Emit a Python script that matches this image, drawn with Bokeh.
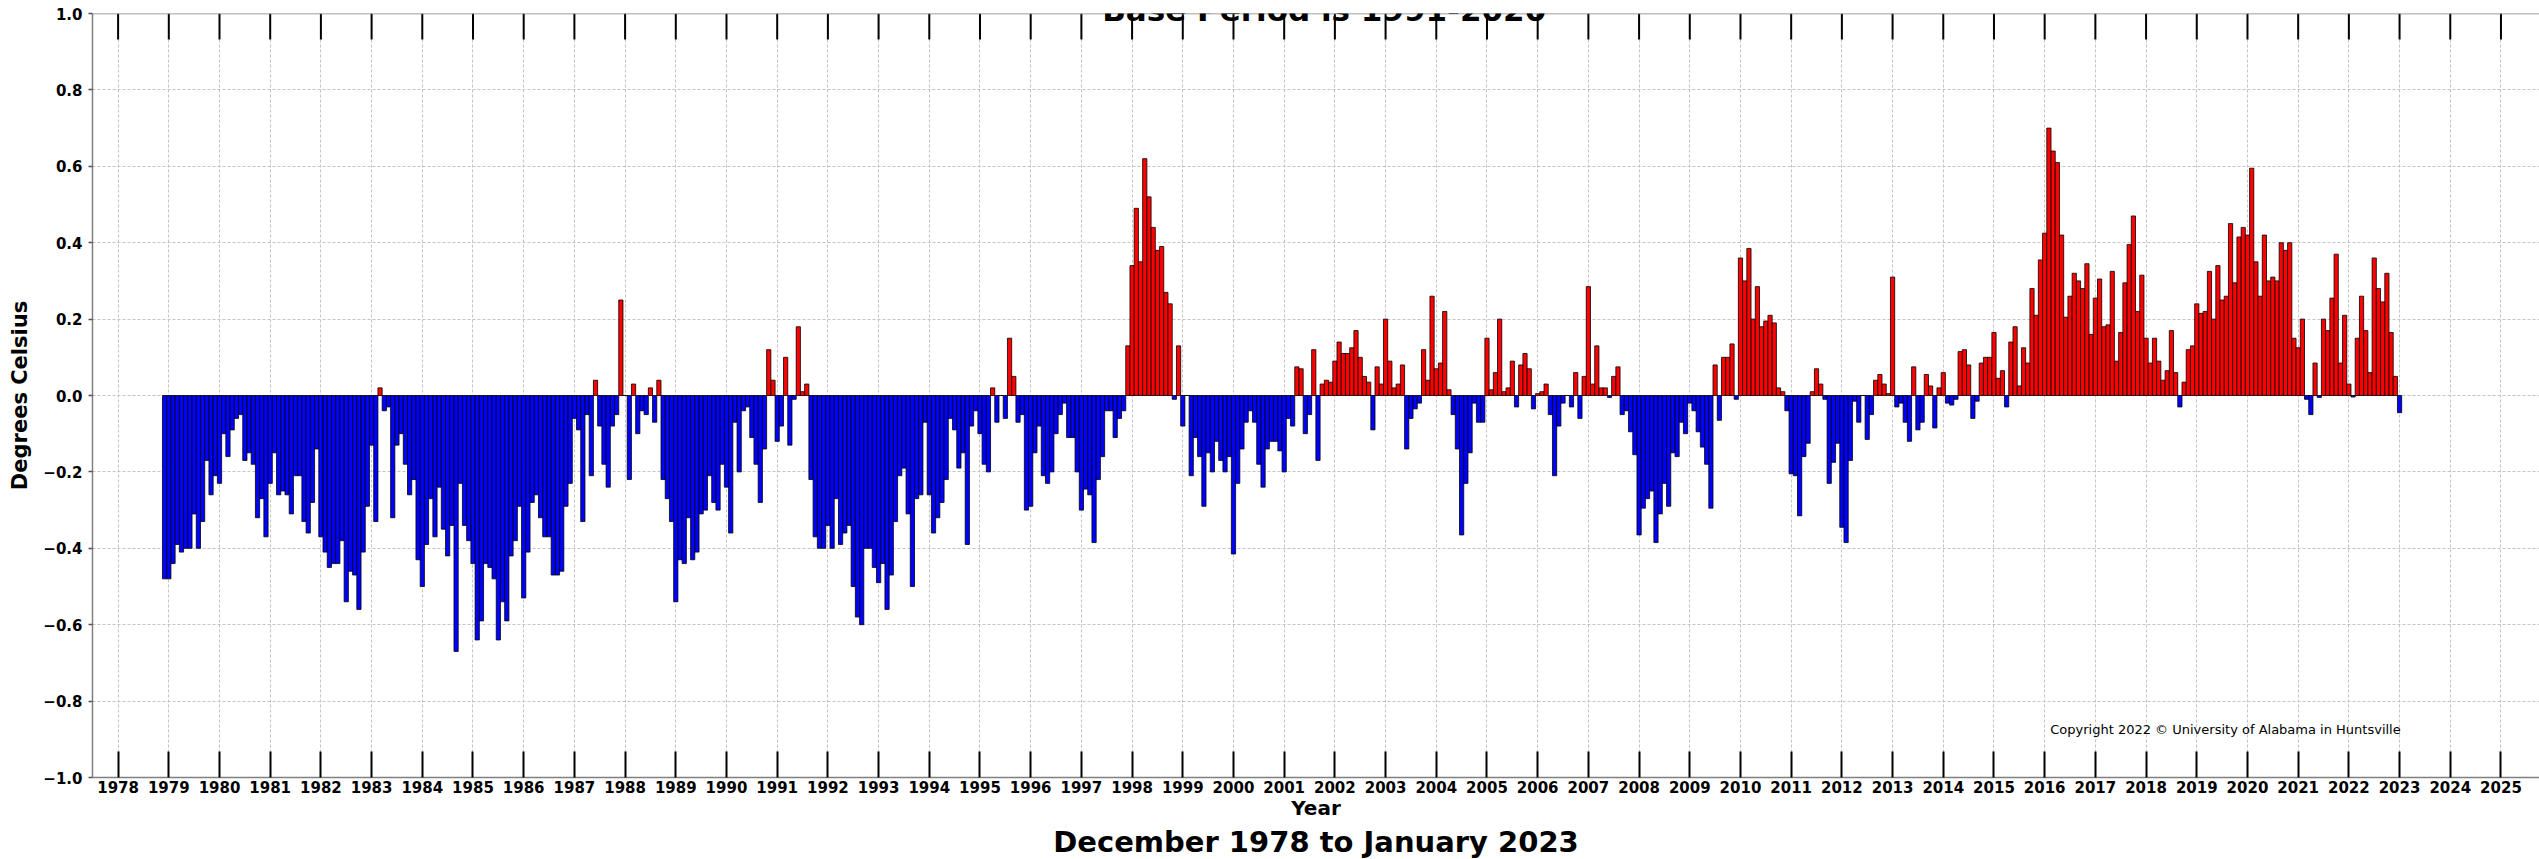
from bokeh.plotting import figure
from bokeh.models import ColumnDataSource, FixedTicker, Label, Range1d, Span, Title
from bokeh.embed import file_html
from bokeh.resources import INLINE

# Monthly anomalies (deg C), UAH global lower troposphere, base 1991-2020
anom_1978 = [-0.48]  # December only
anom_1979 = [-0.48, -0.44, -0.39, -0.41, -0.40, -0.40, -0.31, -0.40, -0.33, -0.17, -0.26, -0.21]
anom_1980 = [-0.23, -0.10, -0.16, -0.09, -0.06, -0.05, -0.17, -0.15, -0.18, -0.32, -0.27, -0.37]
anom_1981 = [-0.23, -0.15, -0.26, -0.25, -0.26, -0.31, -0.21, -0.21, -0.33, -0.36, -0.28, -0.14]
anom_1982 = [-0.37, -0.41, -0.45, -0.44, -0.44, -0.38, -0.54, -0.46, -0.47, -0.56, -0.41, -0.29]
anom_1983 = [-0.13, -0.33, 0.02, -0.04, -0.03, -0.32, -0.13, -0.10, -0.18, -0.26, -0.22, -0.43]
anom_1984 = [-0.50, -0.39, -0.27, -0.37, -0.24, -0.35, -0.42, -0.34, -0.67, -0.23, -0.34, -0.38]
anom_1985 = [-0.44, -0.64, -0.59, -0.44, -0.45, -0.48, -0.64, -0.54, -0.59, -0.42, -0.38, -0.29]
anom_1986 = [-0.53, -0.41, -0.28, -0.26, -0.32, -0.37, -0.37, -0.47, -0.47, -0.46, -0.29, -0.23]
anom_1987 = [-0.06, -0.09, -0.33, -0.05, -0.21, 0.04, -0.08, -0.18, -0.24, -0.08, -0.05, 0.25]
anom_1988 = [0.00, -0.22, 0.03, -0.10, -0.04, -0.05, 0.02, -0.07, 0.04, -0.22, -0.27, -0.33]
anom_1989 = [-0.54, -0.43, -0.44, -0.32, -0.43, -0.41, -0.31, -0.30, -0.21, -0.28, -0.30, -0.18]
anom_1990 = [-0.24, -0.36, -0.07, -0.20, -0.04, -0.03, -0.11, -0.18, -0.28, -0.14, 0.12, 0.04]
anom_1991 = [-0.12, -0.08, 0.10, -0.13, -0.01, 0.18, 0.01, 0.03, -0.22, -0.37, -0.40, -0.40]
anom_1992 = [-0.34, -0.40, -0.27, -0.39, -0.36, -0.34, -0.50, -0.58, -0.60, -0.40, -0.40, -0.45]
anom_1993 = [-0.49, -0.44, -0.56, -0.47, -0.33, -0.21, -0.19, -0.31, -0.50, -0.27, -0.26, -0.07]
anom_1994 = [-0.26, -0.36, -0.32, -0.28, -0.22, -0.06, -0.09, -0.19, -0.15, -0.39, -0.08, -0.04]
anom_1995 = [-0.10, -0.18, -0.20, 0.02, -0.07, 0.00, -0.06, 0.15, 0.05, -0.07, -0.05, -0.30]
anom_1996 = [-0.29, -0.15, -0.08, -0.21, -0.23, -0.20, -0.10, -0.05, -0.02, -0.11, -0.11, -0.20]
anom_1997 = [-0.30, -0.245, -0.26, -0.385, -0.22, -0.16, -0.04, -0.04, -0.11, -0.06, -0.04, 0.13]
anom_1998 = [0.34, 0.49, 0.35, 0.62, 0.52, 0.44, 0.38, 0.39, 0.27, 0.24, -0.01, 0.13]
anom_1999 = [-0.08, 0.00, -0.21, -0.11, -0.16, -0.29, -0.15, -0.20, -0.12, -0.17, -0.20, -0.16]
anom_2000 = [-0.415, -0.23, -0.14, -0.07, -0.04, -0.07, -0.18, -0.24, -0.14, -0.12, -0.12, -0.145]
anom_2001 = [-0.20, -0.06, -0.08, 0.075, 0.07, -0.10, -0.05, 0.12, -0.17, 0.03, 0.04, 0.035]
anom_2002 = [0.09, 0.14, 0.11, 0.11, 0.125, 0.17, 0.10, 0.05, 0.035, -0.09, 0.075, 0.03]
anom_2003 = [0.20, 0.09, 0.02, 0.03, 0.08, -0.14, -0.06, -0.035, -0.02, 0.12, 0.04, 0.26]
anom_2004 = [0.07, 0.085, 0.22, 0.015, -0.05, -0.14, -0.365, -0.23, -0.15, -0.02, -0.07, -0.07]
anom_2005 = [0.15, 0.015, 0.06, 0.20, 0.01, 0.02, 0.09, -0.03, 0.08, 0.11, 0.07, -0.035]
anom_2006 = [0.005, 0.01, 0.03, -0.05, -0.21, -0.08, -0.02, 0.00, -0.03, 0.06, -0.06, 0.05]
anom_2007 = [0.285, 0.03, 0.13, 0.02, 0.02, -0.005, 0.05, 0.075, -0.05, -0.04, -0.095, -0.155]
anom_2008 = [-0.365, -0.295, -0.27, -0.25, -0.385, -0.31, -0.23, -0.29, -0.15, -0.16, -0.07, -0.10]
anom_2009 = [-0.02, -0.04, -0.095, -0.135, -0.18, -0.295, 0.08, -0.065, 0.10, 0.10, 0.135, -0.01]
anom_2010 = [0.36, 0.30, 0.385, 0.20, 0.285, 0.18, 0.195, 0.21, 0.19, 0.02, 0.01, -0.04]
anom_2011 = [-0.205, -0.21, -0.315, -0.16, -0.125, 0.01, 0.07, 0.03, -0.01, -0.23, -0.175, -0.125]
anom_2012 = [-0.345, -0.385, -0.17, -0.015, -0.07, 0.00, -0.115, -0.05, 0.04, 0.055, 0.03, 0.005]
anom_2013 = [0.31, -0.03, -0.02, -0.07, -0.12, 0.075, -0.09, -0.07, 0.055, 0.025, -0.085, 0.02]
anom_2014 = [0.06, -0.02, -0.025, -0.01, 0.115, 0.12, 0.08, -0.06, -0.015, 0.085, 0.10, 0.10]
anom_2015 = [0.165, 0.045, 0.065, -0.03, 0.14, 0.18, 0.025, 0.125, 0.085, 0.28, 0.21, 0.355]
anom_2016 = [0.425, 0.70, 0.64, 0.61, 0.42, 0.205, 0.26, 0.32, 0.30, 0.28, 0.345, 0.16]
anom_2017 = [0.255, 0.305, 0.18, 0.185, 0.325, 0.09, 0.165, 0.295, 0.395, 0.47, 0.22, 0.315]
anom_2018 = [0.15, 0.085, 0.15, 0.09, 0.04, 0.065, 0.17, 0.06, -0.03, 0.035, 0.12, 0.13]
anom_2019 = [0.24, 0.215, 0.22, 0.325, 0.20, 0.34, 0.25, 0.26, 0.45, 0.295, 0.415, 0.44]
anom_2020 = [0.42, 0.595, 0.35, 0.26, 0.42, 0.30, 0.31, 0.30, 0.40, 0.38, 0.40, 0.15]
anom_2021 = [0.125, 0.20, -0.01, -0.05, 0.085, -0.005, 0.20, 0.17, 0.255, 0.37, 0.085, 0.21]
anom_2022 = [0.03, -0.004, 0.15, 0.26, 0.17, 0.06, 0.36, 0.28, 0.245, 0.32, 0.165, 0.05]
anom_2023 = [-0.045]  # January only

x_tick_years = list(range(1978, 2026))
y_tick_values = [-1.0, -0.8, -0.6, -0.4, -0.2, 0.0, 0.2, 0.4, 0.6, 0.8, 1.0]
y_tick_labels = ["\u22121.0", "\u22120.8", "\u22120.6", "\u22120.4", "\u22120.2", "0.0",
                 "0.2", "0.4", "0.6", "0.8", "1.0"]

title_text = "Base Period is 1991-2020"
subtitle_text = "December 1978 to January 2023"
copyright_text = "Copyright 2022 \u00a9 University of Alabama in Huntsville"

# ---- assemble monthly series ----
g = globals()
xs, vals = [], []
xs.append(1978 + 11 / 12.0)
vals.append(anom_1978[0])
for yr in range(1979, 2023):
    for m, v in enumerate(g["anom_%d" % yr]):
        xs.append(yr + m / 12.0)
        vals.append(v)
xs.append(2023.0)
vals.append(anom_2023[0])
colors = ["#ff0000" if v >= 0 else "#0000ff" for v in vals]
src = ColumnDataSource(dict(x=xs, top=vals, color=colors))

FONT = "DejaVu Sans"
W, H = 2539, 859
TOP_B, BOT_B, LEFT_B = 13, 82, 92
frame_h = H - TOP_B - BOT_B
tick_len_units = 26.0 * 2.0 / frame_h   # 26 px inward tick length, in data units

p = figure(width=W, height=H,
           x_range=Range1d(1977.495, 2025.76), y_range=Range1d(-1.0, 1.0),
           output_backend="svg", toolbar_location=None,
           min_border_left=LEFT_B, min_border_right=0,
           min_border_top=TOP_B, min_border_bottom=BOT_B)
p.outline_line_color = None
p.background_fill_color = "white"
p.border_fill_color = "white"

# grid
p.xgrid.ticker = FixedTicker(ticks=x_tick_years)
p.ygrid.ticker = FixedTicker(ticks=y_tick_values)
for gr in (p.xgrid, p.ygrid):
    gr.grid_line_color = "#c4c4c4"
    gr.grid_line_dash = "3 2"
    gr.grid_line_width = 1

p.vbar(x="x", top="top", bottom=0, width=1 / 12.0, fill_color="color",
       line_color="black", line_width=0.8, source=src)

# top border and inward ticks on top edge
p.add_layout(Span(location=1.0, dimension="width", line_color="#808080", line_width=1.5))
p.segment(x0=x_tick_years, x1=x_tick_years,
          y0=[1.0] * len(x_tick_years), y1=[1.0 - tick_len_units] * len(x_tick_years),
          line_color="black", line_width=2)

# bottom axis
xa = p.xaxis[0]
xa.ticker = FixedTicker(ticks=x_tick_years)
xa.major_tick_in = 26
xa.major_tick_out = 0
xa.major_tick_line_width = 2
xa.major_tick_line_color = "black"
xa.minor_tick_line_color = None
xa.axis_line_color = "#808080"
xa.axis_line_width = 1.5
xa.major_label_text_font = FONT
xa.major_label_text_font_style = "bold"
xa.major_label_text_font_size = "15px"
xa.major_label_text_color = "black"
xa.major_label_standoff = 3
xa.axis_label = "Year"
xa.axis_label_text_font = FONT
xa.axis_label_text_font_style = "bold"
xa.axis_label_text_font_size = "20px"
xa.axis_label_text_color = "black"
xa.axis_label_standoff = 0

# left axis
ya = p.yaxis[0]
ya.ticker = FixedTicker(ticks=y_tick_values)
ya.major_label_overrides = {v: s for v, s in zip(y_tick_values, y_tick_labels)}
ya.major_tick_in = 0
ya.major_tick_out = 4
ya.major_tick_line_color = "#555555"
ya.major_tick_line_width = 1.5
ya.minor_tick_line_color = None
ya.axis_line_color = "#808080"
ya.axis_line_width = 1.5
ya.major_label_text_font = FONT
ya.major_label_text_font_style = "bold"
ya.major_label_text_font_size = "15px"
ya.major_label_text_color = "black"
ya.major_label_standoff = 6
ya.axis_label = "Degrees Celsius"
ya.axis_label_text_font = FONT
ya.axis_label_text_font_style = "bold"
ya.axis_label_text_font_size = "21px"
ya.axis_label_text_color = "black"
ya.axis_label_standoff = 8

# subtitle below the x axis
p.add_layout(Title(text=subtitle_text, align="center", text_font=FONT,
                   text_font_size="29px", text_font_style="bold", text_color="black",
                   standoff=0, offset=0), "below")

p.add_layout(Label(x=2001.79, y=1.0079, text=title_text, text_align="center",
                   text_baseline="alphabetic", text_font=FONT, text_font_style="bold",
                   text_font_size="31px", text_color="black"))
p.add_layout(Label(x=2016.11, y=-0.874, text=copyright_text, text_align="left",
                   text_baseline="middle", text_font=FONT, text_font_size="13px",
                   text_color="black"))

open("out.html", "w").write(file_html(p, INLINE))
